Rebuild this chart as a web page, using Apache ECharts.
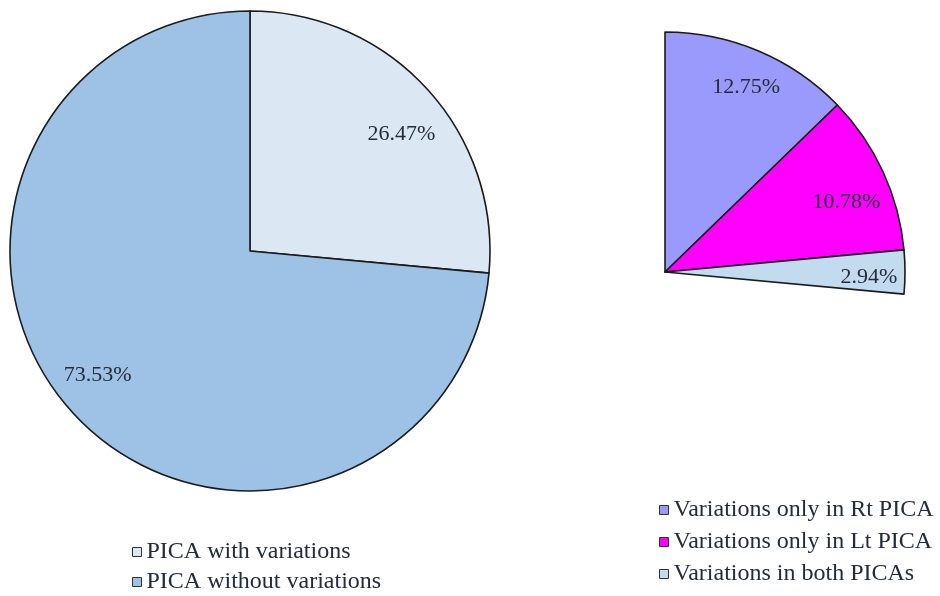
<!DOCTYPE html>
<html>
<head>
<meta charset="utf-8">
<title>PICA variations</title>
<script src="https://cdn.jsdelivr.net/npm/echarts@6/dist/echarts.min.js"></script>
<style>
    html, body { margin: 0; padding: 0; background: #fff; }
    #chart { width: 940px; height: 596px; }
</style>
</head>
<body>
<div id="chart"></div>
<script>
// Data
const mainNames = ['PICA with variations', 'PICA without variations'];
const mainValues = [26.47, 73.53];
const mainColors = ['#dce7f4', '#9dc2e5'];

const subNames = ['Variations only in Rt PICA', 'Variations only in Lt PICA', 'Variations in both PICAs'];
const subValues = [12.75, 10.78, 2.94];
const subColors = ['#9a9afc', '#ff00ff', '#c3dbef'];
// rest of the circle, not drawn
const subRest = 73.53;

const FONT = '"Liberation Serif", "Times New Roman", serif';
const TEXT_COLOR = '#252b3b';
const BORDER = { borderColor: '#1b1b1b', borderWidth: 1.6 };

// small nudges so the labels sit where the original put them
const mainLabelShift = [[5, 17], [-6, -9]];
const subLabelShift = [[2, 2], [-3, 15], [1, 5], [0, 0]];

function buildMainData(showColor) {
    return mainNames.map((name, i) => ({
        name: name,
        value: mainValues[i],
        itemStyle: showColor ? Object.assign({ color: mainColors[i] }, BORDER) : { color: 'rgba(0,0,0,0)', borderWidth: 0 }
    }));
}

function buildSubData(showColor) {
    const data = subNames.map((name, i) => ({
        name: name,
        value: subValues[i],
        itemStyle: showColor ? Object.assign({ color: subColors[i] }, BORDER) : { color: 'rgba(0,0,0,0)', borderWidth: 0 }
    }));
    data.push({
        name: 'rest',
        value: subRest,
        itemStyle: { color: 'rgba(0,0,0,0)', borderWidth: 0 },
        label: { show: false }
    });
    return data;
}

// label ring only carries the percentage texts
function labelRing(center, radius, data, shift) {
    return {
        type: 'pie',
        center: center,
        radius: radius,
        silent: true,
        startAngle: 90,
        data: data,
        label: {
            show: true,
            position: 'inside',
            formatter: p => p.value.toFixed(2) + '%',
            fontFamily: FONT,
            fontSize: 22,
            color: TEXT_COLOR
        },
        labelLayout: p => {
            const s = shift[p.dataIndex] || [0, 0];
            return { dx: s[0], dy: s[1] };
        },
        labelLine: { show: false },
        emphasis: { disabled: true }
    };
}

const legendText = { fontFamily: FONT, fontSize: 24, color: TEXT_COLOR };

const option = {
    animation: false,
    backgroundColor: '#fff',
    legend: [
        {
            data: mainNames,
            orient: 'vertical',
            left: 132,
            top: 540,
            padding: 0,
            itemWidth: 9,
            itemHeight: 9,
            itemGap: 6,
            icon: 'rect',
            itemStyle: { borderColor: '#333', borderWidth: 1 },
            textStyle: legendText,
            selectedMode: false
        },
        {
            data: subNames,
            orient: 'vertical',
            left: 659,
            top: 498,
            padding: 0,
            itemWidth: 9,
            itemHeight: 9,
            itemGap: 8,
            icon: 'rect',
            itemStyle: { borderColor: '#333', borderWidth: 1 },
            textStyle: legendText,
            selectedMode: false
        }
    ],
    series: [
        {
            type: 'pie',
            center: [250, 251],
            radius: [0, 240],
            startAngle: 90,
            data: buildMainData(true),
            label: { show: false },
            labelLine: { show: false },
            emphasis: { disabled: true }
        },
        labelRing([250, 251], [150, 240], buildMainData(false), mainLabelShift),
        {
            type: 'pie',
            center: [665, 272],
            radius: [0, 240],
            startAngle: 90,
            data: buildSubData(true),
            label: { show: false },
            labelLine: { show: false },
            emphasis: { disabled: true }
        },
        labelRing([665, 272], [160, 240], buildSubData(false), subLabelShift)
    ]
};

const myChart = echarts.init(document.getElementById('chart'), null, { renderer: 'canvas' });
myChart.setOption(option);
</script>
</body>
</html>
